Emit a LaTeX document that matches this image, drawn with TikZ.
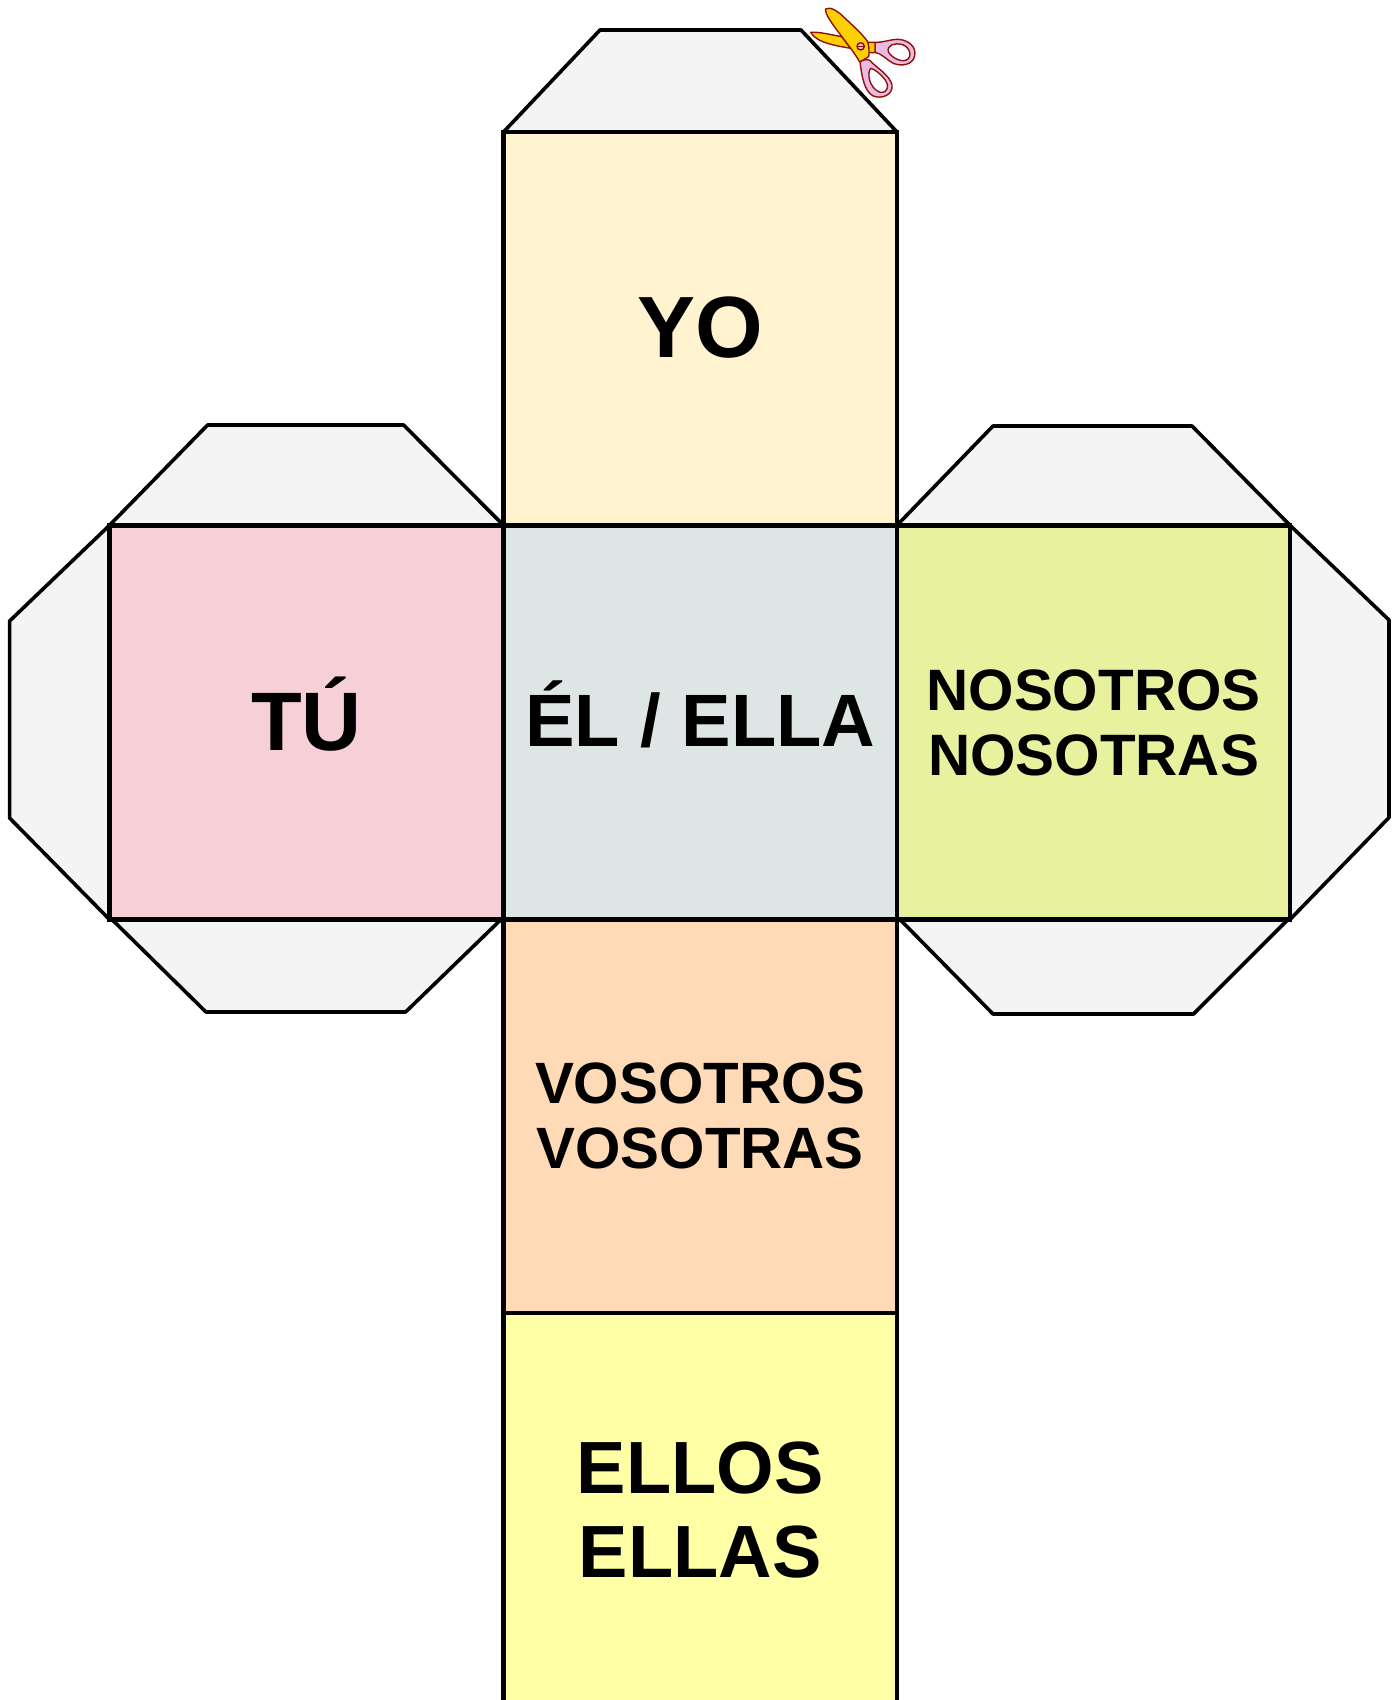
\documentclass[tikz,border=0pt]{standalone}
\usepackage{fontspec}
\setmainfont{Liberation Sans}
\definecolor{cyo}{HTML}{FFF4CF}
\definecolor{cel}{HTML}{DEE6E5}
\definecolor{ctu}{HTML}{F7D0D7}
\definecolor{cnos}{HTML}{E8F29E}
\definecolor{cvos}{HTML}{FFDAB6}
\definecolor{cell}{HTML}{FFFFA6}
\definecolor{cflap}{HTML}{F4F4F4}
\definecolor{scgold}{HTML}{FFD000}
\definecolor{scpink}{HTML}{E9BCE0}
\definecolor{scline}{HTML}{901010}
\tikzset{
  face/.style={draw=black,line width=4.4pt,inner sep=0pt,outer sep=0pt,align=center,text=black},
  flap/.style={draw=black,fill=cflap,line width=3.6pt,line join=round},
  captxt/.style={font=\fontsize{#1}{#1}\selectfont\bfseries,text height=.729*#1 pt,text depth=5pt},
  scis/.style={draw=scline,line width=1.4pt,line join=round},
}
\begin{document}
\begin{tikzpicture}[x=1pt,y=-1pt]
\useasboundingbox (0,0) rectangle (1396,1700);
\fill[white] (0,0) rectangle (1396,1700);
\begin{scope}
\clip (0,0) rectangle (1396,1700);
% flaps
\draw[flap] (503.5,132) -- (600,30) -- (801,30) -- (897,132) -- cycle;
\draw[flap] (109.5,525.3) -- (207.6,425) -- (403.6,425) -- (503.5,525.3) -- cycle;
\draw[flap] (109.5,525.3) -- (9.6,621) -- (9.6,818) -- (109.5,919.5) -- cycle;
\draw[flap] (112,919.5) -- (206,1012) -- (405.6,1012) -- (501,919.5) -- cycle;
\draw[flap] (897,525.3) -- (993,426) -- (1192,426) -- (1290,525.3) -- cycle;
\draw[flap] (1290,525.3) -- (1389,620) -- (1389,817.5) -- (1290,919.5) -- cycle;
\draw[flap] (900,919.5) -- (993,1014) -- (1193.5,1014) -- (1288,919.5) -- cycle;
% faces
\node[face,fill=cyo,minimum width=393.5pt,minimum height=393.3pt,captxt=87] (yo) at (700.25,328.65) {YO};
\node[face,fill=ctu,minimum width=394pt,minimum height=394.2pt,captxt=83] (tu) at (306.5,722.4) {TÚ};
\node[face,fill=cel,minimum width=393.5pt,minimum height=394.2pt,captxt=74.2] (el) at (700.25,722.4) {ÉL / ELLA};
\node[face,fill=cnos,minimum width=393pt,minimum height=394.2pt,font=\fontsize{58.4}{65}\selectfont\bfseries] (nos) at (1093.5,722.4) {NOSOTROS\\NOSOTRAS};
\node[face,fill=cvos,minimum width=393.5pt,minimum height=393.5pt,font=\fontsize{58.3}{65}\selectfont\bfseries] (vos) at (700.25,1116.25) {VOSOTROS\\VOSOTRAS};
\node[face,fill=cell,minimum width=393.5pt,minimum height=394pt,font=\fontsize{74}{84.5}\selectfont\bfseries] (ell) at (700.25,1510) {ELLOS\\ELLAS};
% scissors
\begin{scope}[shift={(760,0)},x=.3333pt,y=-.3333pt]
 % second handle
 \path[scis,fill=scpink,even odd rule] (300,185) .. controls (312,178) and (322,178) .. (328,180)
   .. controls (345,200) and (390,225) .. (396,255) .. controls (400,285) and (365,298) .. (340,288)
   .. controls (312,275) and (305,225) .. (300,185) -- cycle
   (332,205) .. controls (320,220) and (328,265) .. (360,277) .. controls (385,280) and (388,255) .. (376,240)
   .. controls (362,222) and (345,208) .. (332,205) -- cycle;
 % first handle
 \path[scis,fill=scpink,even odd rule] (345,127) .. controls (370,128) and (390,118) .. (415,118)
   .. controls (445,120) and (470,140) .. (464,168) .. controls (458,195) and (425,200) .. (400,190)
   .. controls (380,180) and (365,160) .. (345,157) -- cycle
   (385,155) .. controls (392,170) and (420,188) .. (440,180) .. controls (458,170) and (450,140) .. (425,133)
   .. controls (405,128) and (380,135) .. (385,155) -- cycle;
 % gold collar
 \path[scis,fill=scgold] (323,127) -- (345,127) -- (345,158) -- (325,158) -- cycle;
 % short blade
 \path[scis,fill=scgold] (152,97) .. controls (180,95) and (215,105) .. (245,110) -- (272,145)
   .. controls (235,138) and (170,130) .. (152,97) -- cycle;
 % long blade
 \path[scis,fill=scgold] (197,27) .. controls (210,18) and (235,35) .. (250,50)
   .. controls (280,78) and (305,100) .. (323,125) .. controls (328,140) and (328,160) .. (326,170)
   -- (299,186) .. controls (275,140) and (190,50) .. (197,27) -- cycle;
 % screw
 \path[scis,fill=scpink] (302,139) circle[radius=11];
 \draw[scis] (292,139) -- (312,139);
\end{scope}
\end{scope}
\end{tikzpicture}
\end{document}
